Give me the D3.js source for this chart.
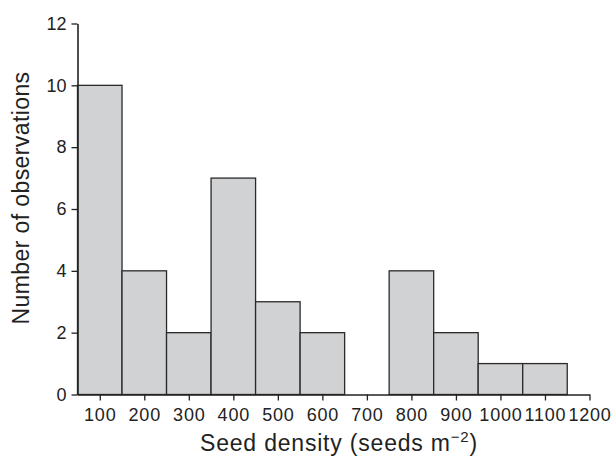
<!DOCTYPE html>
<html><head><meta charset="utf-8">
<script src="https://cdn.jsdelivr.net/npm/d3@7"></script>
<style>body{margin:0;background:#fff}svg{display:block}text{font-family:"Liberation Sans",Arial,sans-serif;fill:#222}</style>
</head><body><svg id="c" width="613" height="458"></svg>
<script>
const binCenters = [100,200,300,400,500,600,700,800,900,1000,1100];
const counts = [10,4,2,7,3,2,0,4,2,1,1];
const xTicks = [100,200,300,400,500,600,700,800,900,1000,1100,1200];
const yTicks = [0,2,4,6,8,10,12];
const binWidth = 100;

const svg = d3.select("#c");
const x = d3.scaleLinear().domain([50,1200]).range([77.5,589.5]);
const y = d3.scaleLinear().domain([0,12]).range([394.5,23.5]);

svg.append("g").selectAll("rect").data(binCenters.map((c,i)=>({c,v:counts[i]})).filter(d=>d.v>0))
  .join("rect")
  .attr("x",d=>x(d.c-binWidth/2)).attr("width",d=>x(d.c+binWidth/2)-x(d.c-binWidth/2))
  .attr("y",d=>y(d.v)).attr("height",d=>y(0)-y(d.v))
  .attr("fill","#d1d2d4").attr("stroke","#2a2a2a").attr("stroke-width",1.3);

const xa = svg.append("g").attr("transform",`translate(0,${y(0)})`)
  .call(d3.axisBottom(x).tickValues(xTicks).tickFormat(d3.format("d")).tickSize(6).tickSizeOuter(0).tickPadding(8));
const ya = svg.append("g").attr("transform",`translate(${x(50)},0)`)
  .call(d3.axisLeft(y).tickValues(yTicks).tickFormat(d3.format("d")).tickSize(6).tickSizeOuter(0).tickPadding(5));
[xa,ya].forEach(a=>{
  a.select(".domain").attr("stroke","#222").attr("stroke-width",1.6);
  a.selectAll(".tick line").attr("stroke","#222").attr("stroke-width",1.3);
  a.selectAll(".tick text").attr("font-size",18).attr("fill","#222").attr("font-family","'Liberation Sans',Arial,sans-serif");
});
xa.selectAll(".tick text").attr("letter-spacing","0.8px");

svg.append("text").attr("x",339).attr("y",451).attr("text-anchor","middle").attr("font-size",23).attr("letter-spacing","0.8px")
  .html('Seed density (seeds m<tspan dy="-9" font-size="15">\u22122</tspan><tspan dy="9">)</tspan>');
svg.append("text").attr("transform","translate(29,198) rotate(-90)").attr("text-anchor","middle").attr("font-size",23).attr("letter-spacing","0.4px")
  .text("Number of observations");
</script></body></html>
